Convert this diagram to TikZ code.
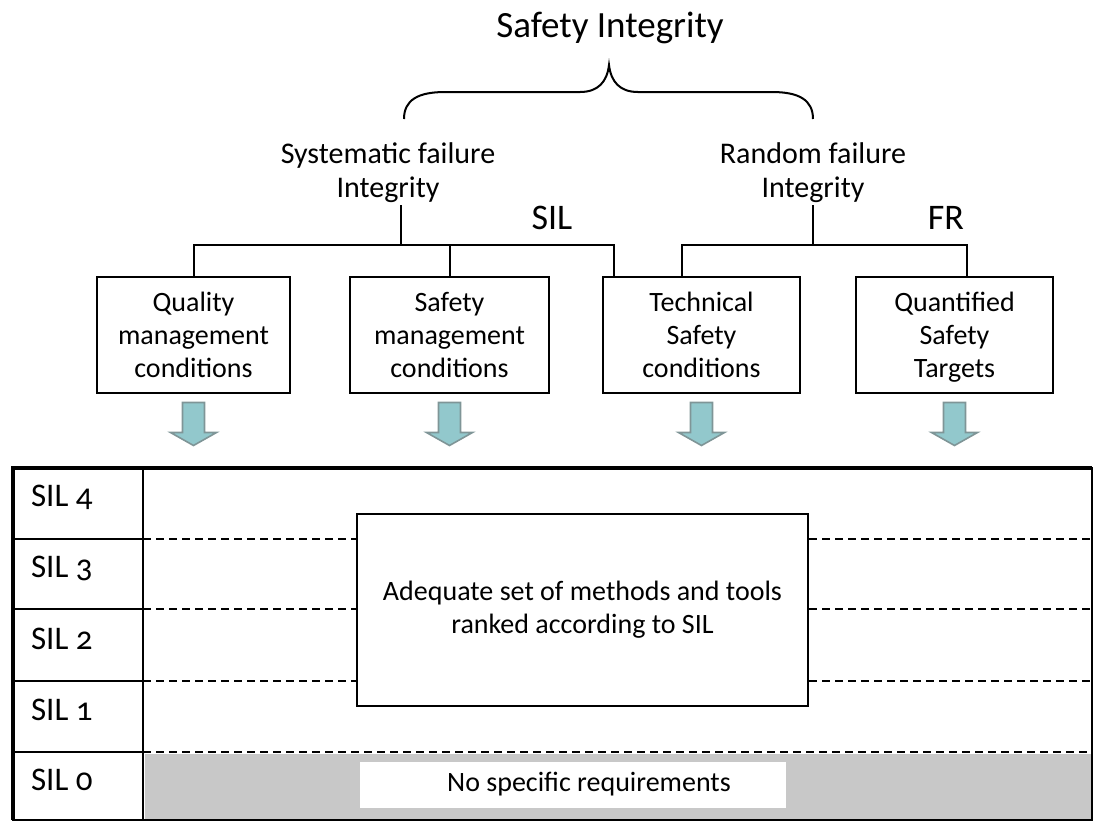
\documentclass[tikz,border=0pt]{standalone}
\usepackage{fontspec}
\setmainfont{Carlito}[Numbers=OldStyle]
\usetikzlibrary{arrows.meta, shapes}
\definecolor{arrowfill}{HTML}{92C8CC}
\definecolor{arrowline}{HTML}{7F9597}
\definecolor{nonefill}{HTML}{C8C8C8}

\begin{document}
\begin{tikzpicture}[x=0.5pt, y=0.5pt, font=\fontsize{14}{16.5}\selectfont,
    downarrow/.style={draw=arrowline, fill=arrowfill, line width=0.8pt, line join=miter},
    dashrow/.style={line width=1pt, dash pattern=on 4pt off 2.5pt}]
\useasboundingbox (0,0) rectangle (1094,-821);

% headings
\node (SI) at (610,-28) {\fontsize{18.5}{22}\selectfont Safety Integrity};
\begin{scope}[every node/.style={align=center, inner sep=1pt}]
    \node[anchor=south, font=\fontsize{15}{17}\selectfont] (SYS) at (388,-205) {Systematic failure\\Integrity};
    \node[anchor=south, font=\fontsize{15}{17}\selectfont] (RND) at (813,-205) {Random failure\\Integrity};
    \node (SIL) at (552,-218) {\fontsize{18}{21}\selectfont SIL};
    \node (FR) at (946,-218) {\fontsize{18}{21}\selectfont FR};
\end{scope}

% brace
\coordinate (BL) at (404,-119);
\coordinate (BR) at (813,-119);
\draw[line width=1pt] (BL) .. controls (404,-100) and (418,-92) .. (445,-92) -- (580,-92)
    .. controls (598,-92) and (607,-82) .. (609,-65)
    .. controls (611,-82) and (620,-92) .. (638,-92) -- (772,-92)
    .. controls (799,-92) and (813,-100) .. (BR);

% condition boxes
\begin{scope}[every node/.style={draw, line width=1pt, align=center, minimum height=58pt, inner sep=2pt}]
    \node[minimum width=96.5pt] (QMC) at (193.5,-335) {Quality\\management\\conditions};
    \node[minimum width=99.5pt] (SMC) at (449.5,-335) {Safety\\management\\conditions};
    \node[minimum width=98.5pt] (TSC) at (701.5,-335) {Technical\\Safety\\conditions};
    \node[minimum width=98.5pt] (QST) at (954.5,-335) {Quantified\\Safety\\\smash{Targets}};
\end{scope}

% tree
\coordinate (SYSJ) at (401,-245);
\coordinate (RNDJ) at (813,-245);
\begin{scope}[line width=1pt]
    \draw (SYSJ |- SYS.south) -- (SYSJ);
    \draw (QMC.north) |- (SYSJ) -| ([xshift=6pt]TSC.north west);
    \draw (SMC.north) -- (SMC.north |- SYSJ);
    \draw (RND.south) -- (RNDJ);
    \draw ([xshift=-10pt]TSC.north) |- (RNDJ) -| ([xshift=6pt]QST.north);
\end{scope}

% arrows
\foreach \b in {QMC,SMC,TSC,QST} {
    \coordinate (A\b) at ([yshift=-15pt]\b.south);
    \draw[downarrow] (A\b) ++(-11,21.5) -- ++(22,0) -- ++(0,-30) -- ++(12,0)
        -- ++(-23,-13) -- ++(-23,13) -- ++(12,0) -- cycle;
}

% table
\fill[nonefill] (145,-754) rectangle (1092,-820);
\fill[white] (360,-762) rectangle (786,-808);
\node (NSR) at (589,-784) {No specific requirements};
\node[draw, line width=1.3pt, minimum width=225.5pt, minimum height=96pt, align=center] (ADQ)
    at (582.5,-610) {Adequate set of methods and tools\\ranked according to SIL};

\draw[line width=1pt] (13,-468) rectangle (1092,-820);
\draw[line width=1.8pt] (13,-820) -- (13,-468) -- (1092,-468);
\draw[line width=1pt] (143,-468) -- (143,-820);
\foreach \y in {539,609,681,752}
    \draw[line width=1pt] (13,-\y) -- (143,-\y);
\foreach \y in {539,609,681} {
    \coordinate (R) at (143,-\y);
    \draw[dashrow] (R) -- (ADQ.west |- R);
    \draw[dashrow] (ADQ.east |- R) -- (1092,-\y);
}
\draw[dashrow] (143,-752) -- (1092,-752);

% levels
\foreach \n/\y in {4/497, 3/568, 2/639, 1/710, 0/780}
    \node[anchor=west, font=\fontsize{16.5}{19}\selectfont] (SIL\n) at (24,-\y) {SIL \n};
\end{tikzpicture}
\end{document}
